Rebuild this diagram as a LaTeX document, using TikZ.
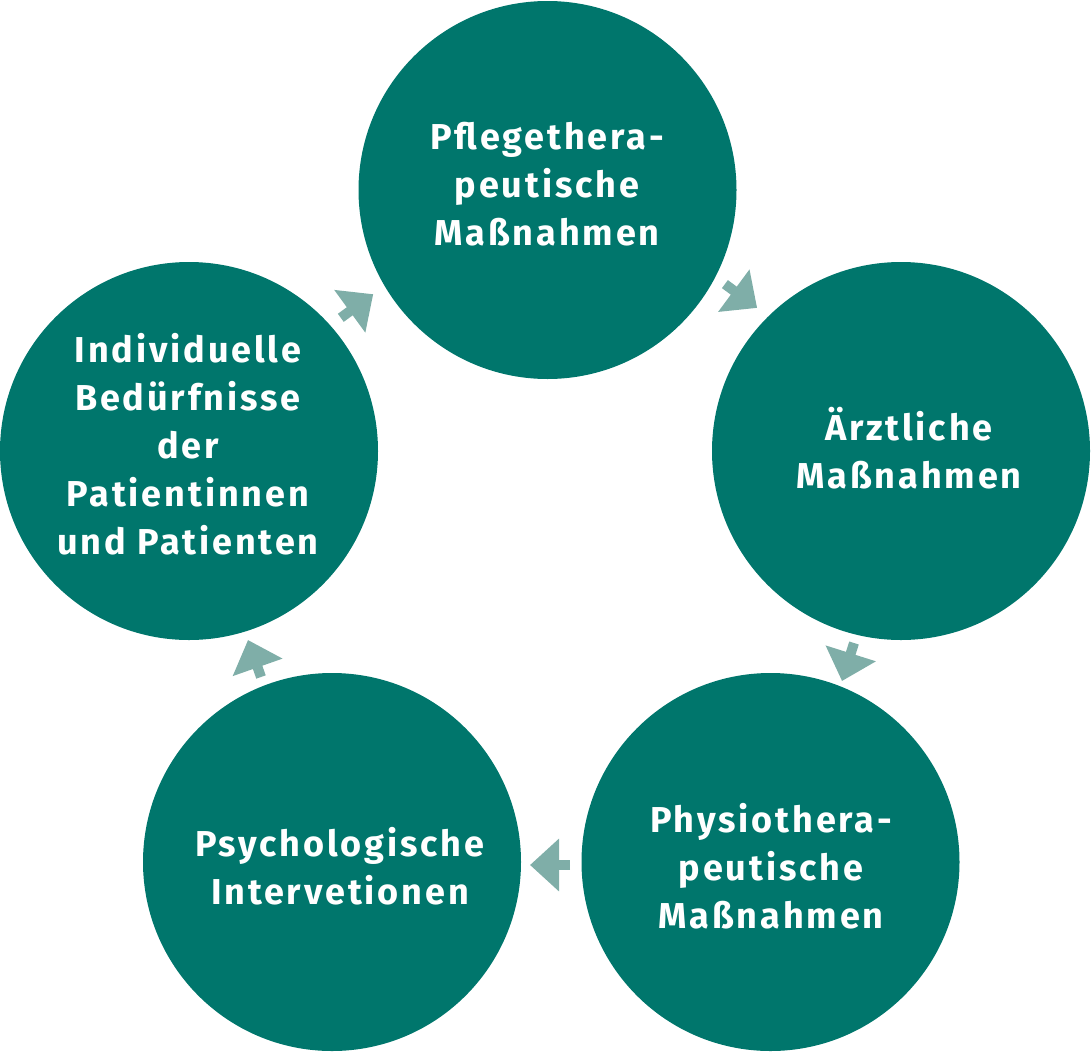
\documentclass[tikz,border=0pt]{standalone}
\usepackage{fontspec}
\setmainfont{Fira Sans}
\newfontfamily\labelfont[LetterSpace=8]{Fira Sans Bold}
\usetikzlibrary{arrows.meta}
\definecolor{teal}{HTML}{00766C}
\definecolor{lteal}{HTML}{7FAEA8}
\begin{document}
\begin{tikzpicture}[x=1pt,y=-1pt,
  stage/.style={circle,fill=teal,draw=none,minimum size=378pt,inner sep=0pt},
  label/.style={text=white,align=center,font=\fontsize{36}{48}\labelfont},
  flow/.style={draw=lteal,line width=10pt,-{Triangle[length=29pt,width=51pt]},fill=lteal}]
\useasboundingbox (0,0) rectangle (1091,1052);
\node[stage] (c1) at (547.5,190) {};
\node[stage] (c2) at (901,451) {};
\node[stage] (c3) at (770.5,862) {};
\node[stage] (c4) at (332,862) {};
\node[stage] (c5) at (189,451) {};
\node[label] (t1) at (547,184) {Pflegethera-\\peutische\\Maßnahmen};
\node[label] (t2) at (909,448) {Ärztliche\\Maßnahmen};
\node[label] (t3) at (771,866) {Physiothera-\\peutische\\Maßnahmen};
\node[label] (t4) at (340,866) {Psychologische\\Intervetionen};
\node[label] (t5) at (188,444) {Individuelle\\Bedürfnisse\\der\\Patientinnen\\und Patienten};
\coordinate (a1s) at (340.8,317.8); \coordinate (a1e) at (373.2,294.2);
\coordinate (a2s) at (724.9,284.1); \coordinate (a2e) at (757.1,307.9);
\coordinate (a3s) at (854,643);     \coordinate (a3e) at (842,681);
\coordinate (a4s) at (570,865);     \coordinate (a4e) at (530,865);
\coordinate (a5s) at (261,677);     \coordinate (a5e) at (248,640);
\draw[flow] (a1s) -- (a1e);
\draw[flow] (a2s) -- (a2e);
\draw[flow] (a3s) -- (a3e);
\draw[flow] (a4s) -- (a4e);
\draw[flow] (a5s) -- (a5e);
\end{tikzpicture}
\end{document}
